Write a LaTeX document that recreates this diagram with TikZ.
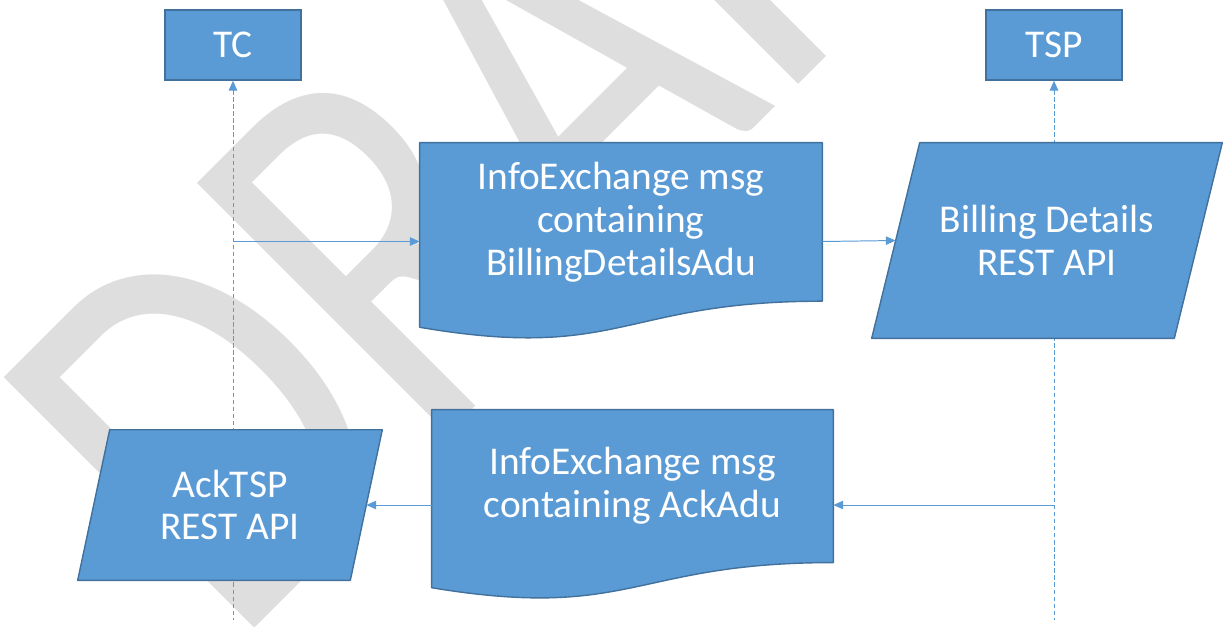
\documentclass[tikz,border=0pt]{standalone}
\usepackage{fontspec}
\setmainfont{Carlito}
\usetikzlibrary{calc,arrows.meta}

\definecolor{boxblue}{HTML}{5B9BD5}
\definecolor{boxline}{HTML}{41719C}
\definecolor{wmgray}{RGB}{222,222,222}

\tikzset{
  actor/.style={rectangle, fill=boxblue, draw=boxline, line width=1pt, text=white,
    font=\fontsize{28}{30}\selectfont, minimum width=3.4cm, minimum height=1.75cm, inner sep=0pt},
  frame/.style={rectangle, draw=none, inner sep=0pt},
  shapefill/.style={fill=boxblue, draw=boxline, line width=1pt, line join=round},
  boxtext/.style={text=white, align=center, font=\fontsize{28}{30.5}\selectfont, inner sep=0pt},
  lifeline/.style={draw=boxblue, line width=0.7pt, dash pattern=on 3pt off 2pt},
  msg/.style={draw=boxblue, line width=0.7pt, -{Triangle[length=7pt,width=6pt]}},
}

\begin{document}
\begin{tikzpicture}[x=0.025cm, y=-0.025cm]

\clip (0,0) rectangle (1223,626);
\fill[white] (0,0) rectangle (1223,626);

\node[rotate=45, anchor=base west, inner sep=0pt, text=wmgray,
  font=\fontsize{315}{315}\selectfont] (draft) at (233,649.5) {\scalebox{1}[1.247]{DRAFT}};

\pgfmathsetmacro\lifeend{620}

\node[actor] (TC) at (233,45) {TC};
\node[actor] (TSP) at (1054,45) {TSP};
\coordinate (tcend) at (233,\lifeend);
\coordinate (tspend) at (1054,\lifeend);

\draw[lifeline, {Triangle[length=7pt,width=6pt]}-] (TC.south) -- (tcend);
\draw[lifeline, {Triangle[length=7pt,width=6pt]}-] (TSP.south) -- (tspend);

% documents
\node[frame, minimum width=10.05cm, minimum height=4.925cm] (doc1) at (621,241.5) {};
\node[frame, minimum width=10.025cm, minimum height=4.75cm] (doc2) at (632.5,505) {};
\foreach \d in {doc1, doc2}
  \draw[shapefill] (\d.north west) -- (\d.north east)
    -- ($(\d.north east)!0.802!(\d.south east)$)
    .. controls ($(\d.north)!0.802!(\d.south)$) and ($(\d.north)!1.1075!(\d.south)$)
    .. ($(\d.north west)!0.934!(\d.south west)$) -- cycle;
\node[boxtext] (doc1txt) at ($(doc1.north)!0.401!(doc1.south)$)
  {InfoExchange msg\\containing\\BillingDetailsAdu};
\node[boxtext] (doc2txt) at ($(doc2.north)!0.401!(doc2.south)$)
  {InfoExchange msg\\containing AckAdu};

% rest apis
\node[frame, minimum width=7.55cm, minimum height=4.875cm] (billing) at (1047,240.5) {};
\node[frame, minimum width=6.8cm, minimum height=3.75cm] (ack) at (230,505) {};
\foreach \p/\s in {billing/24, ack/16}
  \draw[shapefill] ([xshift=\s*0.025cm]\p.north west) -- ([xshift=\s*0.025cm]\p.north east)
    -- ([xshift=-\s*0.025cm]\p.south east) -- ([xshift=-\s*0.025cm]\p.south west) -- cycle;
\node[boxtext] (billingtxt) at (billing) {Billing Details\\REST API};
\node[boxtext] (acktxt) at (ack) {AckTSP\\REST API};

% messages
\draw[msg] (tcend |- doc1.west) -- (doc1.west);
\draw[msg] (doc1.east) -- (billing.west);
\draw[msg] (tspend |- doc2.east) -- (doc2.east);
\draw[msg] (doc2.west) -- (ack.east);

\end{tikzpicture}
\end{document}
